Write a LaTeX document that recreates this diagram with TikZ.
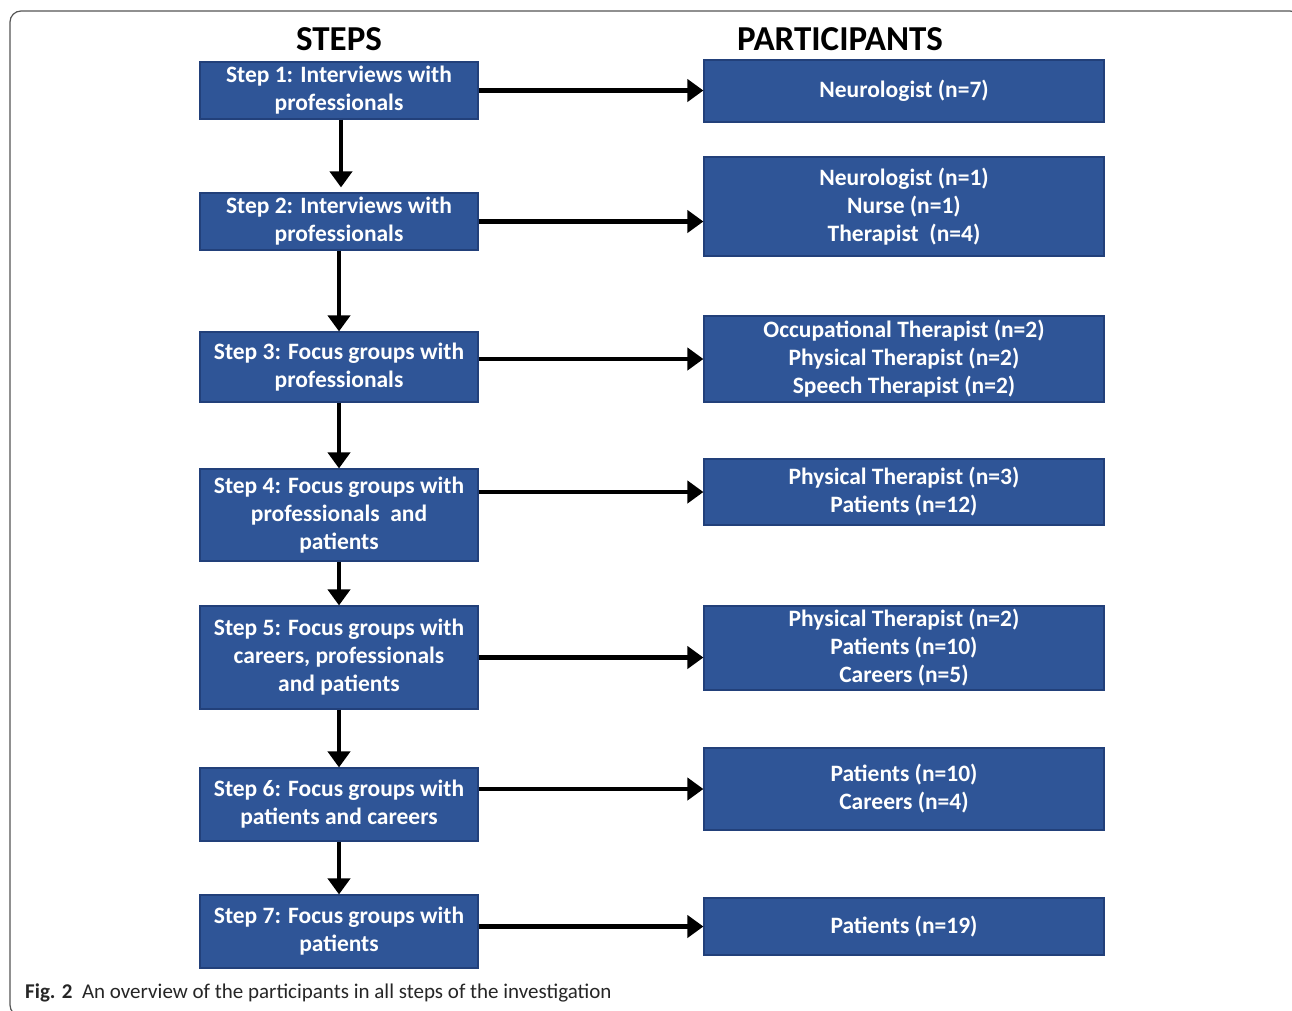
\documentclass[tikz,border=0pt]{standalone}
\usepackage{fontspec}
\setmainfont{Carlito}
\usetikzlibrary{arrows.meta}
\definecolor{boxfill}{HTML}{2F5597}
\definecolor{boxline}{HTML}{22407A}
\definecolor{frameC}{HTML}{555555}
\tikzset{
  lbox/.style={draw=boxline, line width=1.2pt, fill=boxfill, text=white, align=center, inner sep=0pt,
    font=\bfseries\fontsize{23.5}{28}\selectfont, minimum width=278pt},
  rbox/.style={lbox, minimum width=400pt},
  arr/.style={-{Triangle[width=22pt,length=16pt]}, line width=4.5pt, black},
  head/.style={font=\bfseries\fontsize{35}{38}\selectfont, text=black, inner sep=0pt}
}
\begin{document}
\begin{tikzpicture}[x=1pt,y=-1pt]
\useasboundingbox (0,0) rectangle (1292,1010);
\clip (0,0) rectangle (1292,1010);
\fill[white] (0,0) rectangle (1292,1010);
\draw[frameC, line width=1.2pt, rounded corners=11pt] (10,11) rectangle (1301,1016);

\node[head] (hs) at (339,39) {STEPS};
\node[head] (hp) at (840,39) {PARTICIPANTS};

\node[lbox, minimum height=57pt] (L1) at (339,90.5) {Step 1: Interviews with\\professionals};
\node[lbox, minimum height=57pt] (L2) at (339,221.5) {Step 2: Interviews with\\professionals};
\node[lbox, minimum height=70pt] (L3) at (339,367) {Step 3: Focus groups with\\professionals};
\node[lbox, minimum height=92pt] (L4) at (339,515) {Step 4: Focus groups with\\professionals\ \ and\\patients};
\node[lbox, minimum height=103pt] (L5) at (339,657.5) {Step 5: Focus groups with\\careers, professionals\\and patients};
\node[lbox, minimum height=73pt] (L6) at (339,804.5) {Step 6: Focus groups with\\patients and careers};
\node[lbox, minimum height=73pt] (L7) at (339,931.5) {Step 7: Focus groups with\\patients};

\node[rbox, minimum height=62pt] (R1) at (904,91) {Neurologist (n=7)};
\node[rbox, minimum height=99pt] (R2) at (904,206.5) {Neurologist (n=1)\\Nurse (n=1)\\Therapist\ \ (n=4)};
\node[rbox, minimum height=86pt] (R3) at (904,359) {Occupational Therapist (n=2)\\Physical Therapist (n=2)\\Speech Therapist (n=2)};
\node[rbox, minimum height=66pt] (R4) at (904,492) {Physical Therapist (n=3)\\Patients (n=12)};
\node[rbox, minimum height=84pt] (R5) at (904,648) {Physical Therapist (n=2)\\Patients (n=10)\\Careers (n=5)};
\node[rbox, minimum height=82pt] (R6) at (904,789) {Patients (n=10)\\Careers (n=4)};
\node[rbox, minimum height=57pt] (R7) at (904,926.5) {Patients (n=19)};

\draw[arr] (L1.east) -- (L1.east -| R1.west);
\draw[arr] (L2.east) -- (L2.east -| R2.west);
\draw[arr] (L3.east |- R3.west) -- (R3.west);
\draw[arr] (L4.east |- R4.west) -- (R4.west);
\draw[arr] (L5.east) -- (L5.east -| R5.west);
\draw[arr] (L6.east |- R6.west) -- (R6.west);
\draw[arr] (L7.east |- R7.west) -- (R7.west);

\draw[arr, shorten >=5pt] ([xshift=2pt]L1.south) -- ([xshift=2pt]L2.north);
\draw[arr] (L2.south) -- (L3.north);
\draw[arr] (L3.south) -- (L4.north);
\draw[arr] (L4.south) -- (L5.north);
\draw[arr] (L5.south) -- (L6.north);
\draw[arr] (L6.south) -- (L7.north);

\node[anchor=base west, inner sep=0pt, font=\fontsize{21}{24}\selectfont, text=black!85] (cap) at (25,998)
  {\textbf{Fig. 2}\ \ An overview of the participants in all steps of the investigation};
\end{tikzpicture}
\end{document}
